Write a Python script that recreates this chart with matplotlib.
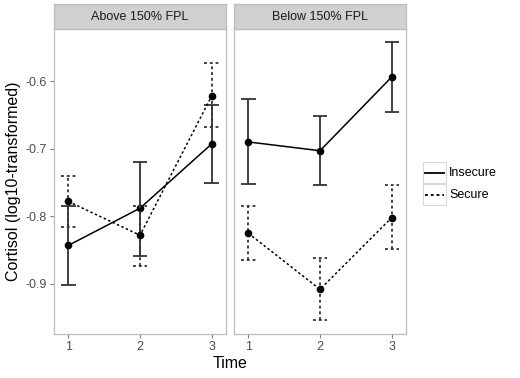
import numpy as np
import matplotlib.pyplot as plt
from matplotlib.patches import Rectangle
from matplotlib.lines import Line2D

plt.rcParams['font.family'] = ['Liberation Sans', 'DejaVu Sans']

# data
time = [1, 2, 3]
panels = ["Above 150% FPL", "Below 150% FPL"]
groups = ["Insecure", "Secure"]

above_insecure = [-0.843, -0.788, -0.693]
above_insecure_lo = [-0.901, -0.858, -0.750]
above_insecure_hi = [-0.784, -0.720, -0.636]
above_secure = [-0.778, -0.828, -0.622]
above_secure_lo = [-0.816, -0.873, -0.668]
above_secure_hi = [-0.741, -0.784, -0.574]

below_insecure = [-0.690, -0.703, -0.594]
below_insecure_lo = [-0.752, -0.754, -0.646]
below_insecure_hi = [-0.627, -0.652, -0.542]
below_secure = [-0.825, -0.908, -0.802]
below_secure_lo = [-0.865, -0.954, -0.849]
below_secure_hi = [-0.785, -0.861, -0.754]

yticks = [-0.9, -0.8, -0.7, -0.6]

data = {
    panels[0]: [(above_insecure, above_insecure_lo, above_insecure_hi),
                (above_secure, above_secure_lo, above_secure_hi)],
    panels[1]: [(below_insecure, below_insecure_lo, below_insecure_hi),
                (below_secure, below_secure_lo, below_secure_hi)],
}
styles = ['-', (0, (1.6, 1.6))]

W, H = 520, 378
fig = plt.figure(figsize=(W / 100, H / 100), dpi=100)

border = '#BDBDBD'
tickcol = '#4D4D4D'
lefts = [54, 234]
pw = 172
top, bot = 29, 334

for i, name in enumerate(panels):
    ax = fig.add_axes([lefts[i] / W, (H - bot) / H, pw / W, (bot - top) / H])
    for (m, lo, hi), ls in zip(data[name], styles):
        ax.vlines(time, lo, hi, colors='#333333', linestyles=ls, lw=1.3)
        ax.hlines(lo, np.array(time) - 0.1, np.array(time) + 0.1, colors='#333333', linestyles=ls, lw=1.3)
        ax.hlines(hi, np.array(time) - 0.1, np.array(time) + 0.1, colors='#333333', linestyles=ls, lw=1.3)
        ax.plot(time, m, color='black', linestyle=ls, lw=1.1, marker='o', ms=4.5)
    ax.set_xlim(0.8, 3.2)
    ax.set_ylim(-0.974, -0.523)
    ax.set_xticks(time)
    ax.set_xticklabels([str(t) for t in time])
    ax.set_yticks(yticks)
    ax.set_yticklabels([str(v) for v in yticks])
    ax.tick_params(colors='#7F7F7F', labelcolor=tickcol, labelsize=9, length=3, width=0.8, pad=2)
    if i == 1:
        ax.tick_params(axis='y', left=False, labelleft=False)
    for s in ax.spines.values():
        s.set_color(border)
        s.set_linewidth(0.9)
    # strip
    sax = fig.add_axes([lefts[i] / W, (H - top) / H, pw / W, 25 / H])
    sax.set_xticks([])
    sax.set_yticks([])
    sax.set_facecolor('#D0D0D0')
    for s in sax.spines.values():
        s.set_color(border)
        s.set_linewidth(0.9)
    sax.text(0.5, 0.5, name, ha='center', va='center', fontsize=9, color='#1A1A1A', transform=sax.transAxes)

fig.text(230 / W, 1 - 363 / H, 'Time', ha='center', va='center', fontsize=11.5)
fig.text(14 / W, 1 - 181 / H, 'Cortisol (log10-transformed)', ha='center', va='center',
         rotation=90, fontsize=11.5)

# legend
for j, (g, ls) in enumerate(zip(groups, styles)):
    y0 = 162 + j * 22
    fig.patches.append(Rectangle((423 / W, 1 - (y0 + 21) / H), 23 / W, 21 / H,
                                 transform=fig.transFigure, fill=False,
                                 edgecolor='#D9D9D9', lw=0.8))
    ym = 1 - (y0 + 11) / H
    fig.lines.append(Line2D([425 / W, 444 / W], [ym, ym], transform=fig.transFigure,
                            color='black', linestyle=ls, lw=1.3))
    fig.text(449 / W, ym, g, ha='left', va='center', fontsize=9)

fig.savefig('out.png', dpi=100)
